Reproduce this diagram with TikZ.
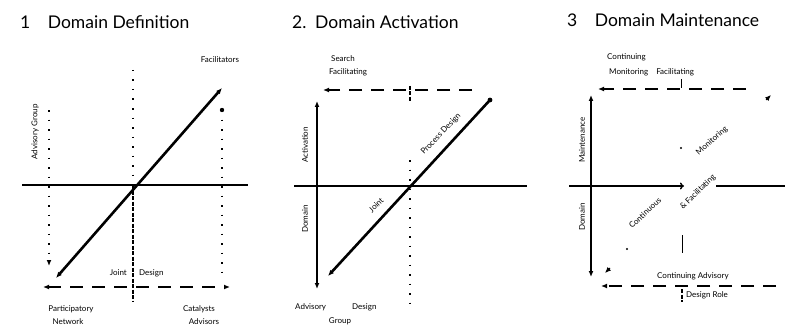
\documentclass[tikz,border=0pt]{standalone}
\usepackage{fontspec}
\setmainfont{Lato}
\usetikzlibrary{arrows.meta}
\begin{document}
\begin{tikzpicture}[x=1pt,y=-1pt,
  title/.style={font=\fontsize{17.5}{20}\selectfont, inner sep=0pt},
  lbl/.style={font=\fontsize{8}{9}\selectfont, inner sep=0pt},
  axis/.style={line width=1.4pt},
  thickarrow/.style={line width=2.6pt},
  dashline/.style={line width=1.4pt, dash pattern=on 13pt off 9pt},
  dotline/.style={line width=1.2pt, dash pattern=on 1.5pt off 8pt},
  fineline/.style={line width=1.1pt, dash pattern=on 4pt off 1.5pt},
  tip/.style={-{Latex[length=6pt,width=5pt]}},
  tips/.style={{Latex[length=6pt,width=5pt]}-{Latex[length=6pt,width=5pt]}}]
\useasboundingbox (0,0) rectangle (785,329);
\fill[white] (0,0) rectangle (785,329);

% ---------- Panel 1 ----------
\node[title, anchor=west] (t1) at (20,22) {1\quad Domain Definition};
\coordinate (a1L) at (22,185); \coordinate (a1R) at (248,185);
\draw[axis] (a1L) -- (a1R);
\coordinate (c1t) at (133,70); \coordinate (c1o) at (133,185); \coordinate (c1b) at (133,301);
\draw[dotline] (c1t) -- (c1o);
\draw[fineline] (c1o) -- (c1b);
\coordinate (l1t) at (49,110); \coordinate (l1b) at (49,266);
\draw[dotline, tip] (l1t) -- (l1b);
\coordinate (r1t) at (222,110); \coordinate (r1b) at (222,276);
\draw[dotline] (r1t) -- (r1b);
\fill (r1t) circle[radius=2.2pt];
\coordinate (d1a) at (56,278); \coordinate (d1b) at (222,88);
\draw[thickarrow, tips] (d1a) -- (d1b);
\coordinate (b1L) at (43,287); \coordinate (b1R) at (230,287);
\draw[dashline, tips] (b1L) -- (b1R);
\node[lbl] (fac1) at (220,60) {Facilitators};
\node[lbl, rotate=90] (adv1) at (35,132) {Advisory Group};
\node[lbl, anchor=east] (joint1) at (127,273) {Joint};
\node[lbl, anchor=west] (design1) at (139,273) {Design};
\node[lbl] (part1) at (71,309) {Participatory};
\node[lbl] (net1) at (68,322) {Network};
\node[lbl] (cat1) at (199,309) {Catalysts};
\node[lbl] (advs1) at (204,322) {Advisors};

% ---------- Panel 2 ----------
\node[title, anchor=west] (t2) at (292,22) {2.\enspace Domain Activation};
\coordinate (a2L) at (294,186); \coordinate (a2R) at (527,186);
\draw[axis] (a2L) -- (a2R);
\coordinate (v2t) at (317,101); \coordinate (v2b) at (317,289);
\draw[thickarrow, tips] (v2t) -- (v2b);
\coordinate (c2t) at (410,160); \coordinate (c2b) at (410,303);
\draw[dotline] (c2t) -- (c2b);
\coordinate (k2t) at (410,86); \coordinate (k2b) at (410,102);
\draw[fineline] (k2t) -- (k2b);
\coordinate (h2R) at (472,90); \coordinate (h2L) at (323,90);
\draw[dashline, tip] (h2R) -- (h2L);
\coordinate (d2b) at (490,100); \coordinate (d2a) at (328,276);
\draw[thickarrow, tip] (d2b) -- (d2a);
\fill (d2b) circle[radius=2.4pt];
\node[lbl, anchor=west] (srch2) at (331,59) {Search};
\node[lbl, anchor=west] (facg2) at (329,72) {Facilitating};
\node[lbl, rotate=90] (act2) at (305,145) {Activation};
\node[lbl, rotate=90] (dom2) at (305,219) {Domain};
\node[lbl, rotate=45] (joint2) at (376,205) {Joint};
\node[lbl, rotate=46] (proc2) at (441,134) {Process Design};
\node[lbl, anchor=west] (advs2) at (295,307) {Advisory};
\node[lbl, anchor=west] (desg2) at (352,307) {Design};
\node[lbl] (grp2) at (340,321) {Group};

% ---------- Panel 3 ----------
\node[title, anchor=west] (t3) at (567,20) {3\quad Domain Maintenance};
\coordinate (a3L) at (569,186); \coordinate (a3M) at (684,186);
\coordinate (a3N) at (716,186); \coordinate (a3R) at (785,186);
\draw[axis, -{To[length=4pt,width=7pt]}] (a3L) -- (a3M);
\draw[axis] (a3N) -- (a3R);
\coordinate (v3t) at (591,95); \coordinate (v3b) at (591,277);
\draw[thickarrow, tips] (v3t) -- (v3b);
\coordinate (h3R) at (746,89); \coordinate (h3L) at (598,89);
\draw[dashline, tip] (h3R) -- (h3L);
\coordinate (k3t) at (681,79); \coordinate (k3b) at (681,88);
\draw[line width=1pt] (k3t) -- (k3b);
\coordinate (g3R) at (776,286); \coordinate (g3L) at (601,286);
\draw[dashline, tip] (g3R) -- (g3L);
\coordinate (m3t) at (682,235); \coordinate (m3b) at (682,253);
\draw[line width=1pt] (m3t) -- (m3b);
\coordinate (n3t) at (682,289); \coordinate (n3b) at (682,302);
\draw[fineline] (n3t) -- (n3b);
\coordinate (e3a) at (610,268); \coordinate (e3b) at (605,273);
\draw[tip, line width=1pt] (e3a) -- (e3b);
\coordinate (f3a) at (766,100); \coordinate (f3b) at (771,95);
\draw[tip, line width=1pt] (f3a) -- (f3b);
\fill (627,249) circle[radius=1.2pt];
\fill (681,148) circle[radius=1.2pt];
\node[lbl, anchor=west] (cont3) at (607,57) {Continuing};
\node[lbl, anchor=west] (monf3) at (609,72) {Monitoring\quad Facilitating};
\node[lbl, rotate=90] (mnt3) at (582,140) {Maintenance};
\node[lbl, rotate=90] (dom3) at (582,217) {Domain};
\node[lbl, rotate=42] (mon3) at (712,141) {Monitoring};
\node[lbl, rotate=44] (fac3) at (698,192) {\& Facilitating};
\node[lbl, rotate=43] (cnts3) at (645,213) {Continuous};
\node[lbl, anchor=west] (cadv3) at (657,276) {Continuing Advisory};
\node[lbl, anchor=west] (drole3) at (686,295) {Design Role};
\end{tikzpicture}
\end{document}
